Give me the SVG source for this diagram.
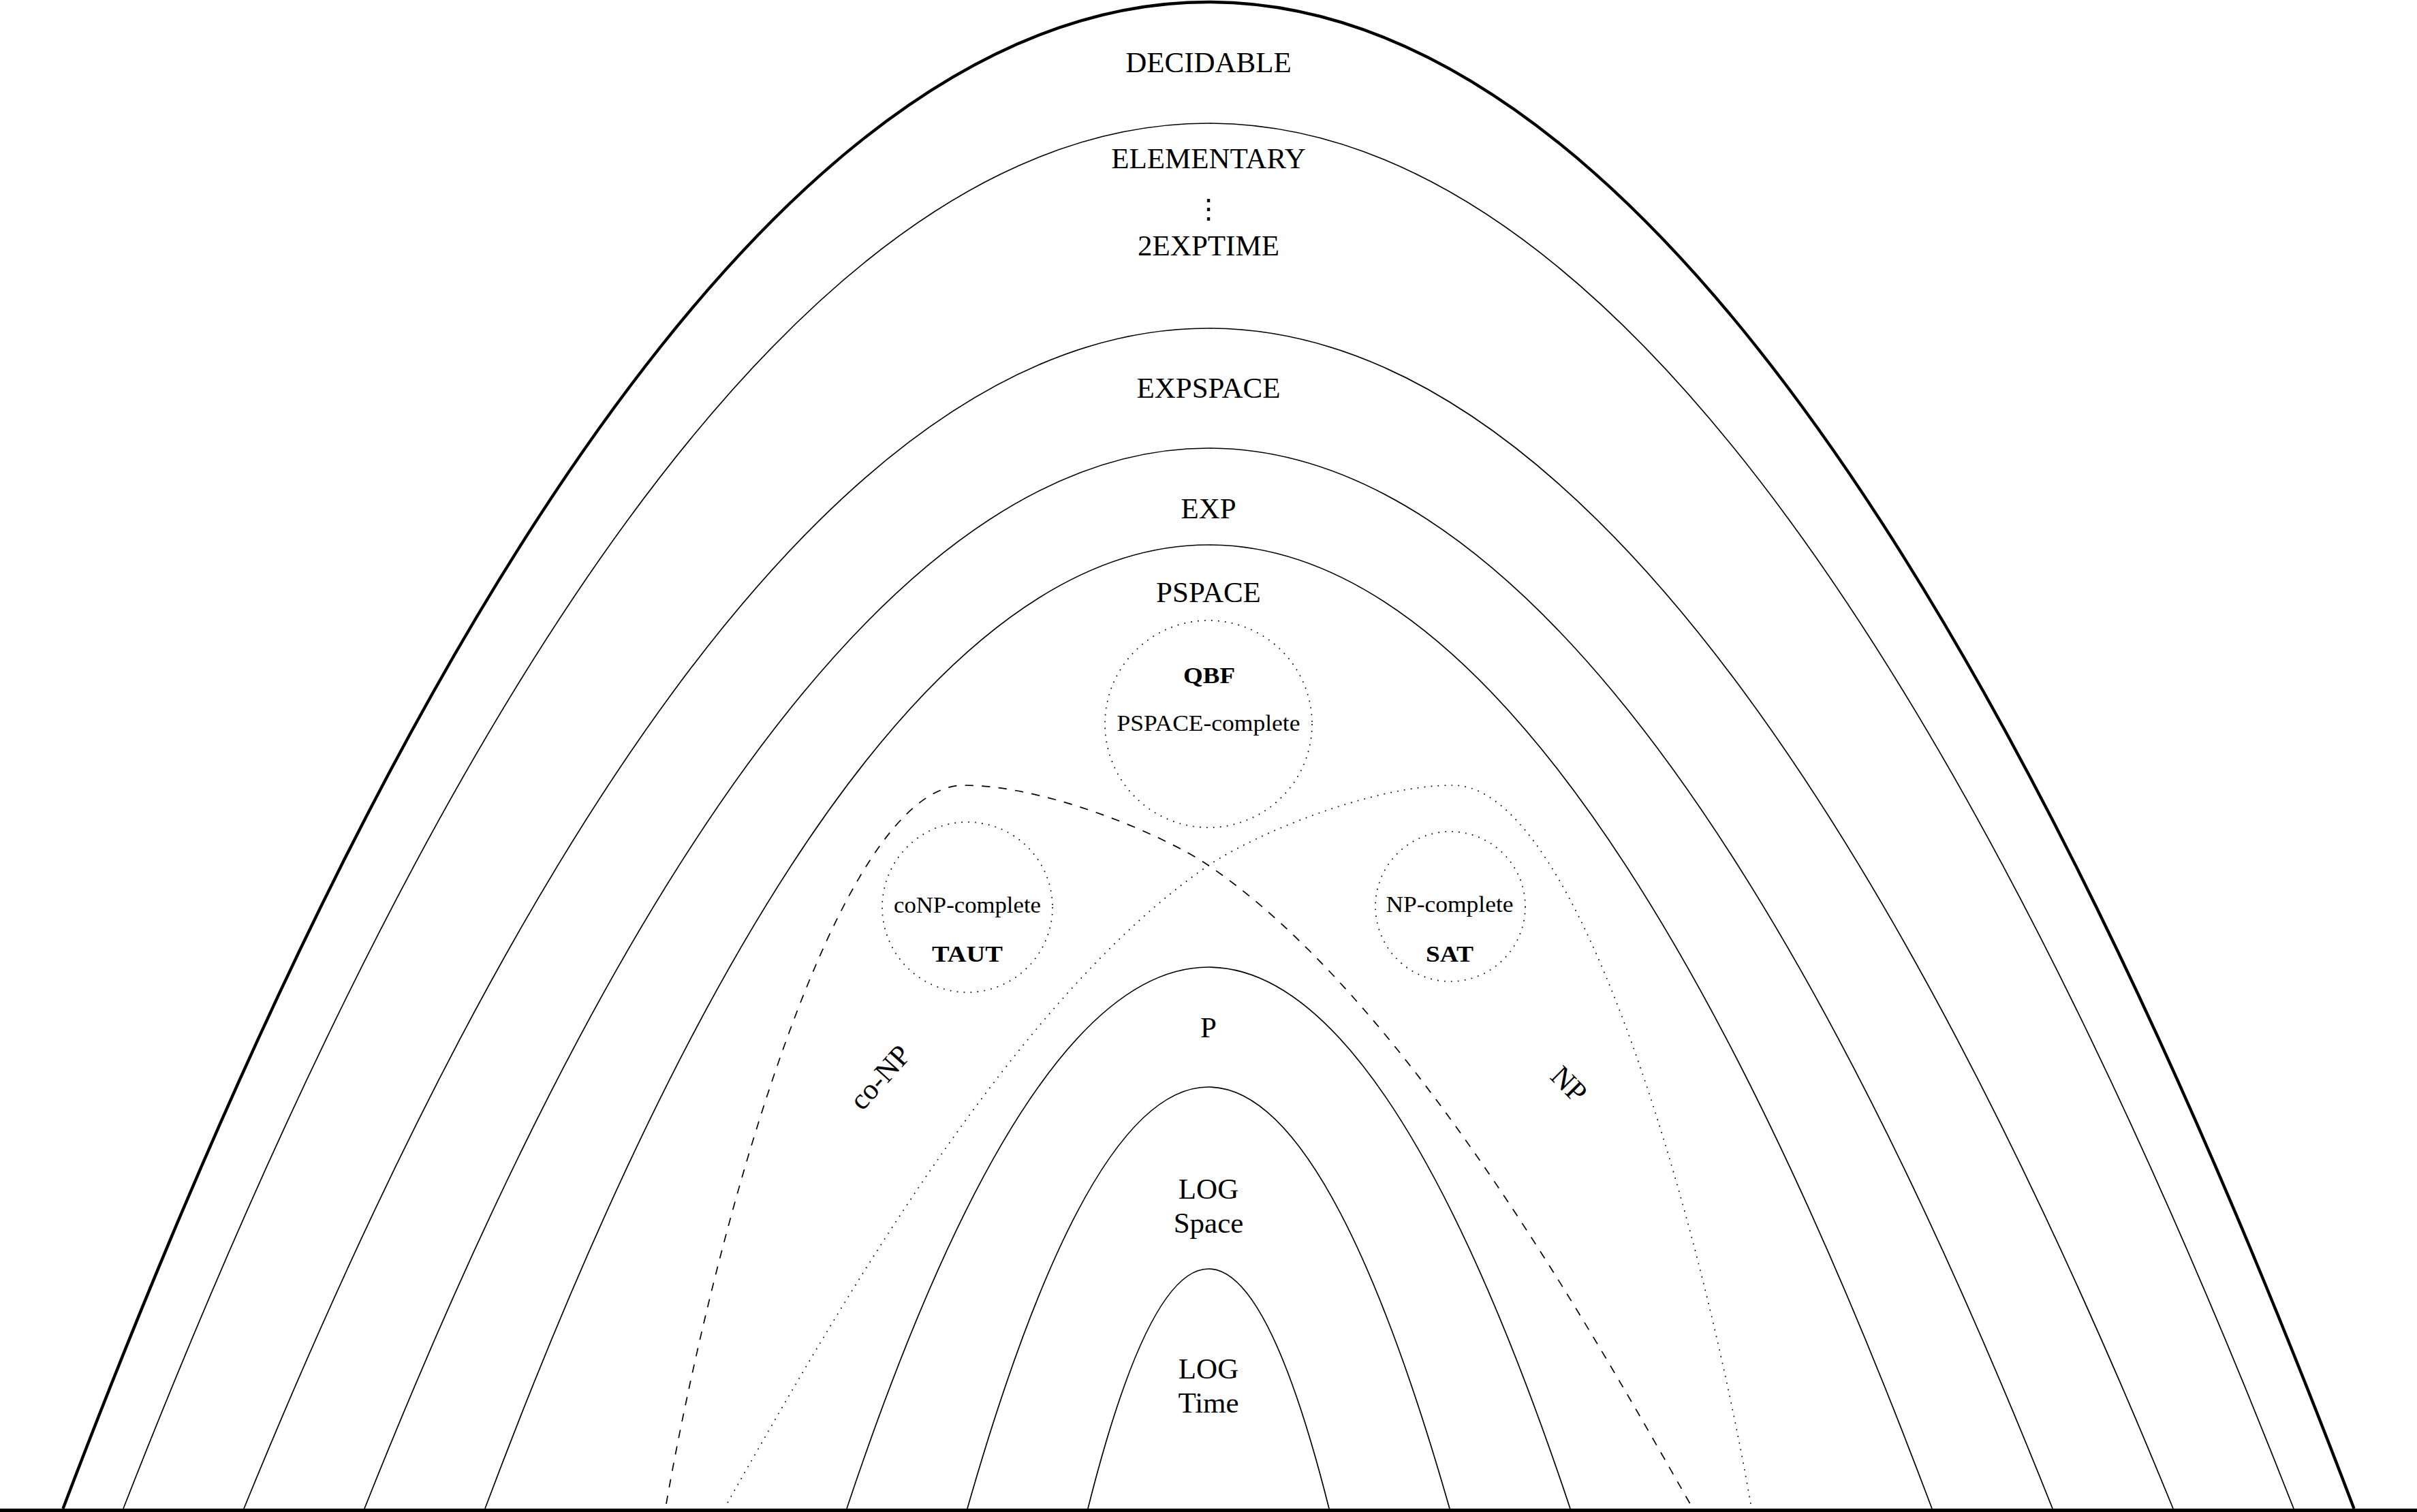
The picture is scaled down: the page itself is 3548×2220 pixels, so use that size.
<svg xmlns="http://www.w3.org/2000/svg" width="3548" height="2220" viewBox="0 0 3548 2220">
<style>
.arc{fill:none;stroke:#000;stroke-width:1.7}
.thick{stroke-width:4.4}
.lbl{font-family:"Liberation Serif","Times New Roman",serif;font-size:43px;text-anchor:middle;fill:#000}
.sm{font-family:"Liberation Serif","Times New Roman",serif;font-size:33px;text-anchor:middle;fill:#000}
.bf{font-weight:bold}
.dot{fill:none;stroke:#000;stroke-width:1.7;stroke-dasharray:1.7 8.3}
.dash{fill:none;stroke:#000;stroke-width:1.7;stroke-dasharray:12.3 12.3}
</style>
<rect width="3548" height="2220" fill="#fff"/>
<g id="decidable">
<path class="arc thick" d="M 92.5 2215 Q 1774 -2209 3455.5 2215"/>
<text class="lbl" x="1774" y="106">DECIDABLE</text>
</g>
<g id="elementary">
<path class="arc" d="M 181 2215 Q 1774 -1853 3367 2215"/>
<text class="lbl" x="1774" y="247">ELEMENTARY</text>
<text class="lbl" x="1774" y="320" style="font-family:'DejaVu Serif',serif;font-size:40px">⋮</text>
<text class="lbl" x="1774" y="375">2EXPTIME</text>
</g>
<g id="expspace">
<path class="arc" d="M 358 2215 Q 1774 -1251 3190 2215"/>
<text class="lbl" x="1774" y="584">EXPSPACE</text>
</g>
<g id="exp">
<path class="arc" d="M 535 2215 Q 1774 -899 3013 2215"/>
<text class="lbl" x="1774" y="761">EXP</text>
</g>
<g id="pspace">
<path class="arc" d="M 712 2215 Q 1774 -615 2836 2215"/>
<text class="lbl" x="1774" y="884">PSPACE</text>
</g>
<g id="pspace-complete">
<circle class="dot" cx="1774" cy="1063" r="152"/>
<text class="sm bf" x="1775" y="1003" textLength="76" lengthAdjust="spacingAndGlyphs">QBF</text>
<text class="sm" x="1774" y="1073" textLength="269" lengthAdjust="spacingAndGlyphs">PSPACE-complete</text>
</g>
<g id="conp">
<path class="dash" d="M 978 2208 C 1050 1800, 1230 1153, 1415 1153 C 1535 1153, 1706.5 1225, 1773 1270 C 2063.5 1467, 2332 1947, 2481 2208"/>
<text class="lbl" transform="translate(1292 1582) rotate(-48)" x="0" y="14">co-NP</text>
</g>
<g id="np">
<path class="dot" transform="translate(3548 0) scale(-1 1)" d="M 978 2208 C 1050 1800, 1230 1153, 1415 1153 C 1535 1153, 1706.5 1225, 1773 1270 C 2063.5 1467, 2332 1947, 2481 2208"/>
<text class="lbl" transform="translate(2303 1592) rotate(45)" x="0" y="14">NP</text>
</g>
<g id="conp-complete">
<circle class="dot" cx="1420" cy="1332" r="125"/>
<text class="sm" x="1420" y="1340" textLength="216" lengthAdjust="spacingAndGlyphs">coNP-complete</text>
<text class="sm bf" x="1420" y="1412" textLength="104" lengthAdjust="spacingAndGlyphs">TAUT</text>
</g>
<g id="np-complete">
<circle class="dot" cx="2129" cy="1331" r="110"/>
<text class="sm" x="2128" y="1339" textLength="187" lengthAdjust="spacingAndGlyphs">NP-complete</text>
<text class="sm bf" x="2128" y="1412" textLength="70" lengthAdjust="spacingAndGlyphs">SAT</text>
</g>
<g id="p">
<path class="arc" d="M 1243 2215 Q 1774 625 2305 2215"/>
<text class="lbl" x="1774" y="1523">P</text>
</g>
<g id="logspace">
<path class="arc" d="M 1420 2215 Q 1774 977 2128 2215"/>
<text class="lbl" x="1774" y="1760">LOG</text>
<text class="lbl" x="1774" y="1810">Space</text>
</g>
<g id="logtime">
<path class="arc" d="M 1597 2215 Q 1774 1511 1951 2215"/>
<text class="lbl" x="1774" y="2024">LOG</text>
<text class="lbl" x="1774" y="2074">Time</text>
</g>
<g id="baseline">
<line x1="0" y1="2217.5" x2="3548" y2="2217.5" stroke="#000" stroke-width="5"/>
</g>
</svg>
